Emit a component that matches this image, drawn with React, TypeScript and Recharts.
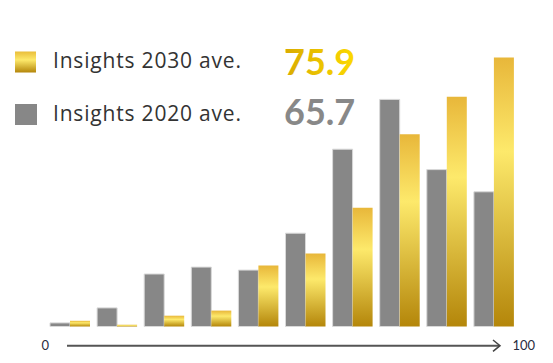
import React from "react";
import { BarChart, Bar, XAxis, YAxis } from "recharts";

const categories = ["1", "2", "3", "4", "5", "6", "7", "8", "9", "10"];
const insights2020 = [1.2, 6.2, 17.5, 19.8, 18.8, 31.1, 59.1, 75.7, 52.3, 44.9];
const insights2030 = [1.9, 0.6, 3.6, 5.3, 20.3, 24.3, 39.6, 64.1, 76.6, 89.7];
const legendLabels = ["Insights 2030 ave.", "Insights 2020 ave."];
const legendValues = ["75.9", "65.7"];
const axisLabels = ["0", "100"];

const data = categories.map((c, i) => ({
  name: c,
  y2020: insights2020[i],
  y2030: insights2030[i],
}));

const FONT = "Lato, 'Open Sans', sans-serif";
const LFONT = "'Open Sans', Lato, sans-serif";

export default function App() {
  return (
    <div style={{ position: "absolute", left: 0, top: 0, width: 553, height: 363, background: "#fff" }}>
      <BarChart
        width={553}
        height={363}
        data={data}
        margin={{ top: 26.5, right: 36, bottom: 36.5, left: 46 }}
        barCategoryGap={4}
        barGap={0}
      >
        <defs>
          <linearGradient id="goldBar" x1="0" y1="0" x2="0" y2="1">
            <stop offset="0%" stopColor="#e8b73a" />
            <stop offset="35%" stopColor="#fde96b" />
            <stop offset="100%" stopColor="#b4860a" />
          </linearGradient>
        </defs>
        <XAxis dataKey="name" hide />
        <YAxis domain={[0, 100]} hide />
        <Bar dataKey="y2020" fill="#878787" stroke="#d9d9d9" strokeWidth={1} isAnimationActive={false} />
        <Bar dataKey="y2030" fill="url(#goldBar)" isAnimationActive={false} />
      </BarChart>
      <svg
        width={553}
        height={363}
        style={{ position: "absolute", left: 0, top: 0, pointerEvents: "none" }}
      >
        <defs>
          <linearGradient id="goldSq" x1="0" y1="0" x2="0" y2="1">
            <stop offset="0%" stopColor="#e9bd3a" />
            <stop offset="40%" stopColor="#fde96b" />
            <stop offset="100%" stopColor="#b4860a" />
          </linearGradient>
          <linearGradient id="goldTxt" x1="0" y1="0" x2="1" y2="0">
            <stop offset="0%" stopColor="#d9ab00" />
            <stop offset="100%" stopColor="#fcd900" />
          </linearGradient>
        </defs>
        <rect x={15} y={51.5} width={21} height={21} fill="url(#goldSq)" />
        <rect x={15} y={104} width={22} height={21} fill="#878787" />
        <text
          x={53}
          y={67.5}
          fontFamily={LFONT}
          fontSize={21}
          fill="#333"
          fontWeight={400}
          textLength={188}
          lengthAdjust="spacing"
        >
          {legendLabels[0]}
        </text>
        <text
          x={53}
          y={120.5}
          fontFamily={LFONT}
          fontSize={21}
          fill="#333"
          fontWeight={400}
          textLength={188}
          lengthAdjust="spacing"
        >
          {legendLabels[1]}
        </text>
        <text x={284} y={75} fontFamily={FONT} fontSize={36} fill="url(#goldTxt)" fontWeight={700}>
          {legendValues[0]}
        </text>
        <text x={284} y={125} fontFamily={FONT} fontSize={36} fill="#888888" fontWeight={700}>
          {legendValues[1]}
        </text>
        <line x1={67} y1={345.7} x2={499} y2={345.7} stroke="#555" strokeWidth={2} />
        <polyline
          points="493,340 500,345.7 493,351.4"
          fill="none"
          stroke="#444"
          strokeWidth={1.5}
        />
        <text x={41.5} y={350} fontFamily={FONT} fontSize={13} fill="#2a2d3e">
          {axisLabels[0]}
        </text>
        <text x={512.5} y={350} fontFamily={FONT} fontSize={13} fill="#2a2d3e">
          {axisLabels[1]}
        </text>
      </svg>
    </div>
  );
}
